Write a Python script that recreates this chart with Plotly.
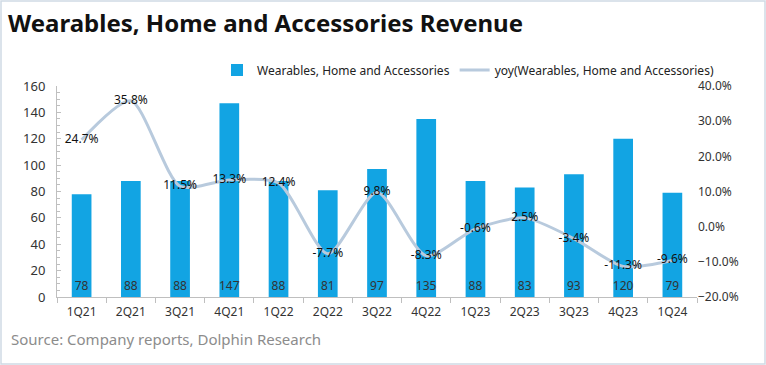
import plotly.graph_objects as go

categories = ["1Q21", "2Q21", "3Q21", "4Q21", "1Q22", "2Q22", "3Q22", "4Q22",
              "1Q23", "2Q23", "3Q23", "4Q23", "1Q24"]
revenue = [78, 88, 88, 147, 88, 81, 97, 135, 88, 83, 93, 120, 79]
yoy_pct = [24.7, 35.8, 11.5, 13.3, 12.4, -7.7, 9.8, -8.3, -0.6, 2.5, -3.4, -11.3, -9.6]
left_ticks = [0, 20, 40, 60, 80, 100, 120, 140, 160]
right_ticks = [-0.2, -0.1, 0.0, 0.1, 0.2, 0.3, 0.4]

yoy = [v / 100 for v in yoy_pct]

FONT = "Noto Sans"
BAR_COLOR = "#12A4E3"
LINE_COLOR = "#B8CADD"
AXIS_COLOR = "#BFBFBF"

# pixel geometry helpers
W, H = 766, 365
L, R, T, B = 57, 697, 86, 297
pw, ph = R - L, B - T


def px_x(x):
    return (x - L) / pw


def px_y(y):
    return (B - y) / ph


fig = go.Figure()
fig.add_trace(go.Bar(
    x=categories, y=revenue, name="Wearables, Home and Accessories",
    marker=dict(color=BAR_COLOR, line=dict(width=0)),
    text=[str(v) for v in revenue], textposition="inside",
    insidetextanchor="start", constraintext="none", textangle=0,
    textfont=dict(family=FONT, size=12, color="#333333"),
    yaxis="y", cliponaxis=False,
))
fig.add_trace(go.Scatter(
    x=categories, y=yoy, name="yoy(Wearables, Home and Accessories)",
    mode="lines+text", line=dict(color=LINE_COLOR, width=3, shape="spline", smoothing=0.7),
    text=[f"{v:.1f}%" for v in yoy_pct], textposition="middle center",
    textfont=dict(family=FONT, size=12, color="#111111"),
    yaxis="y2", cliponaxis=False,
))

fig.update_layout(
    width=W, height=H,
    margin=dict(l=L, r=W - R, t=T, b=H - B, autoexpand=False),
    paper_bgcolor="white", plot_bgcolor="white",
    bargap=0.6,
    font=dict(family=FONT, size=12, color="#333333"),
    showlegend=True,
    legend=dict(orientation="h", x=px_x(217), y=px_y(70), xanchor="left", yanchor="middle",
                font=dict(family=FONT, size=12, color="#222222"),
                bgcolor="rgba(0,0,0,0)", itemwidth=30, tracegroupgap=0),
    xaxis=dict(type="category", showline=True, linecolor=AXIS_COLOR, linewidth=1,
               ticks="outside", tickson="boundaries", ticklen=5, tickcolor=AXIS_COLOR,
               ticklabelstandoff=4,
               tickfont=dict(family=FONT, size=12, color="#333333"),
               showgrid=False, zeroline=False, range=[-0.5, 12.5]),
    yaxis=dict(range=[0, 160], tickvals=left_ticks, showgrid=False, zeroline=False,
               showline=True, linecolor=AXIS_COLOR, linewidth=1,
               ticks="inside", ticklen=4, tickcolor=AXIS_COLOR,
               ticklabelstandoff=8,
               minor=dict(ticks="inside", dtick=5, ticklen=3, tickcolor=AXIS_COLOR),
               tickfont=dict(family=FONT, size=13, color="#333333")),
    yaxis2=dict(range=[-0.2, 0.4], tickvals=right_ticks, tickformat=".1%", overlaying="y",
                side="right", showgrid=False, zeroline=False, showline=False,
                tickfont=dict(family=FONT, size=12, color="#333333")),
    annotations=[
        dict(text="<b>Wearables, Home and Accessories Revenue</b>", xref="paper", yref="paper",
             x=px_x(6), y=px_y(23), xanchor="left", yanchor="middle", showarrow=False,
             font=dict(family=FONT, size=24, color="#111111")),
        dict(text="Source: Company reports, Dolphin Research", xref="paper", yref="paper",
             x=px_x(9), y=px_y(339), xanchor="left", yanchor="middle", showarrow=False,
             font=dict(family=FONT, size=15, color="#8C8C8C")),
    ],
    shapes=[dict(type="rect", xref="paper", yref="paper",
                 x0=px_x(1), x1=px_x(765), y0=px_y(364), y1=px_y(1),
                 line=dict(color="#CFDAE5", width=1.5), layer="above")],
)

fig.write_html("out.html", config={"displayModeBar": False},
               post_script="document.body.style.margin='0';")
